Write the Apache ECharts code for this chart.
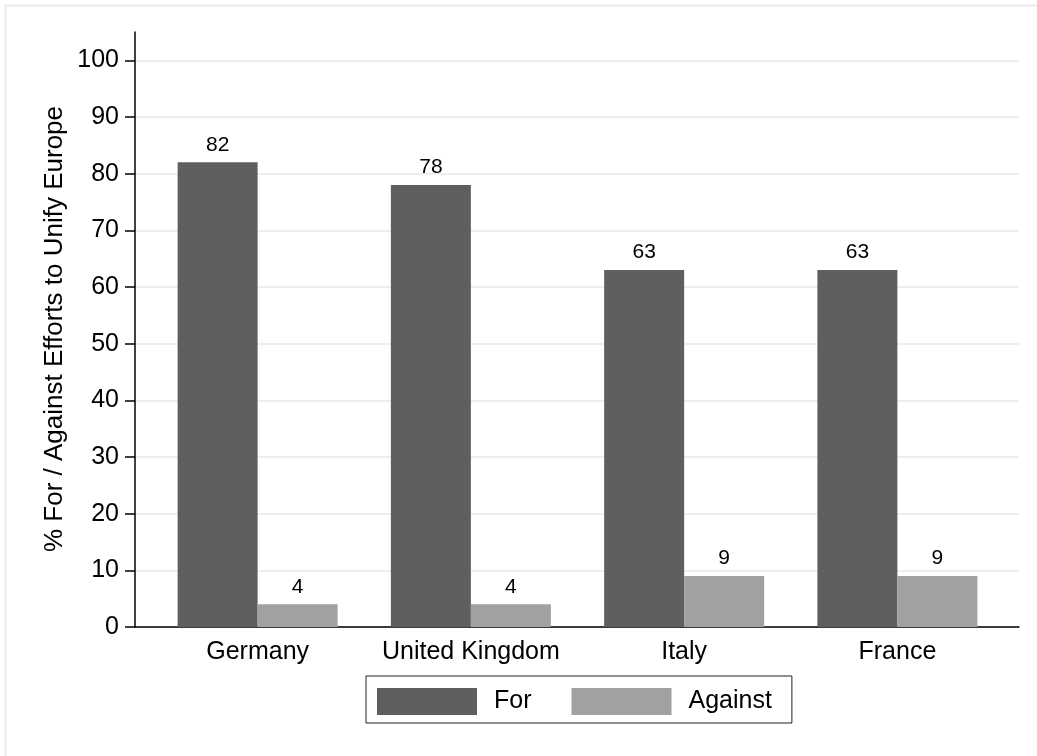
<!DOCTYPE html>
<html><head><meta charset="utf-8">
<script src="https://cdn.jsdelivr.net/npm/echarts@6/dist/echarts.min.js"></script>
<style>html,body{margin:0;padding:0;background:#fff}#c{width:1037px;height:756px}</style>
</head><body><div id="c"></div>
<script>
const categories = ['Germany', 'United Kingdom', 'Italy', 'France'];
const forValues = [82, 78, 63, 63];
const againstValues = [4, 4, 9, 9];
const yTicks = [0, 10, 20, 30, 40, 50, 60, 70, 80, 90, 100];

const FONT = 'Liberation Sans, Arial, sans-serif';
const chart = echarts.init(document.getElementById('c'));
const gTop = 32, gBottom = 756 - 627;
chart.setOption({
  animation: false,
  textStyle: { fontFamily: FONT },
  graphic: [
    { type: 'rect', shape: { x: 5.5, y: 5.5, width: 1040, height: 760 }, style: { fill: 'none', stroke: '#ebebeb', lineWidth: 2 }, silent: true, z: -10 },
    { type: 'text', x: 55, y: 329, rotation: Math.PI / 2,
      style: { text: '% For / Against Efforts to Unify Europe', font: '26px ' + FONT, fill: '#000', align: 'center', verticalAlign: 'middle' } }
  ],
  grid: [
    { left: 135, right: 1037 - 1019, top: gTop, bottom: gBottom },
    { left: 151, right: 1037 - 1004, top: gTop, bottom: gBottom }
  ],
  legend: {
    left: 366, top: 676,
    orient: 'horizontal',
    itemWidth: 100, itemHeight: 27, itemGap: 40,
    padding: [12, 20, 8, 11],
    borderColor: '#222', borderWidth: 1,
    icon: 'rect',
    textStyle: { fontSize: 25, color: '#000', fontFamily: FONT, padding: [0, 0, 0, 12] },
    data: ['For', 'Against']
  },
  xAxis: [
    { type: 'value', gridIndex: 0, min: 0, max: 1, axisLine: { show: true, onZero: false, lineStyle: { color: '#000', width: 1.5 } },
      axisTick: { show: false }, axisLabel: { show: false }, splitLine: { show: false } },
    { type: 'category', gridIndex: 1, data: categories, axisLine: { show: false }, axisTick: { show: false },
      axisLabel: { interval: 0, fontSize: 25, color: '#000', margin: 13, fontFamily: FONT } }
  ],
  yAxis: [
    { type: 'value', gridIndex: 0, min: 0, max: 105, interval: 10,
      axisLine: { show: true, lineStyle: { color: '#000', width: 1.5 } },
      axisTick: { show: true, length: 10, lineStyle: { color: '#000', width: 1.5 }, customValues: yTicks },
      axisLabel: { fontSize: 25, color: '#000', margin: 16, fontFamily: FONT, customValues: yTicks },
      splitLine: { show: true, lineStyle: { color: '#e8e8e8', width: 1.5 } } },
    { type: 'value', gridIndex: 1, min: 0, max: 105, show: false, splitLine: { show: false } }
  ],
  series: [
    { name: 'For', type: 'bar', xAxisIndex: 1, yAxisIndex: 1, data: forValues, barWidth: 80, barGap: '0%',
      itemStyle: { color: '#5f5f5f' },
      label: { show: true, position: 'top', distance: 7, fontSize: 21, color: '#000', fontFamily: FONT } },
    { name: 'Against', type: 'bar', xAxisIndex: 1, yAxisIndex: 1, data: againstValues, barWidth: 80, barGap: '0%',
      itemStyle: { color: '#a1a1a1' },
      label: { show: true, position: 'top', distance: 7, fontSize: 21, color: '#000', fontFamily: FONT } }
  ]
});
</script></body></html>
